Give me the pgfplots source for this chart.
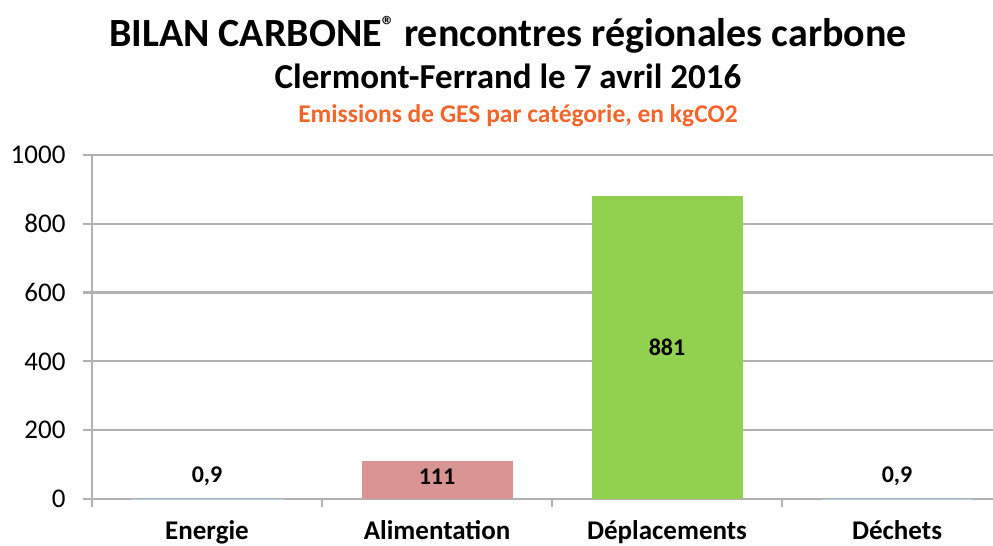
\documentclass[border=0pt]{standalone}
\usepackage{pgfplots}
\pgfplotsset{compat=1.18}
\usepackage{fontspec}
\setmainfont{Carlito}
\definecolor{gridgray}{RGB}{178,178,178}
\definecolor{pinkbar}{RGB}{217,149,148}
\definecolor{greenbar}{RGB}{146,208,80}
\definecolor{bluebar}{RGB}{79,129,189}
\definecolor{orangetitle}{RGB}{242,102,44}
\begin{document}
\begin{tikzpicture}
\path[use as bounding box] (0,0) rectangle (993bp,546bp);
\node[anchor=base,font=\fontsize{40bp}{44bp}\selectfont\bfseries,inner sep=0pt] at (508bp,499bp) {BILAN CARBONE\raisebox{0.3em}{\fontsize{26bp}{28bp}\selectfont ®} rencontres régionales carbone};
\node[anchor=base,font=\fontsize{35bp}{40bp}\selectfont\bfseries,inner sep=0pt] at (508bp,457bp) {Clermont-Ferrand le 7 avril 2016};
\node[anchor=base,font=\fontsize{25.5bp}{30bp}\selectfont\bfseries,text=orangetitle,inner sep=0pt] at (518bp,423bp) {Emissions de GES par catégorie, en kgCO2};
\begin{axis}[
  at={(92bp,47bp)}, anchor=south west,
  scale only axis, width=901bp, height=344bp,
  xmin=-0.5, xmax=3.417, ymin=0, ymax=1000,
  ybar, bar width=151bp,
  axis lines*=left,
  axis line style={gridgray, line width=1.5bp},
  ymajorgrids, grid style={gridgray, line width=2.2bp},
  ytick={0,200,...,1000},
  xtick={0,1,2,3},
  xticklabels={Energie,Alimentation,Déplacements,Déchets},
  minor xtick={-0.5,0.5,1.5,2.5},
  tick align=outside,
  major x tick style={draw=none},
  minor x tick style={gridgray, line width=1.5bp},
  minor tick length=8bp,
  major y tick style={gridgray, line width=2.2bp},
  major tick length=9bp,
  /pgf/number format/assume math mode=true,
  /pgf/number format/1000 sep={},
  yticklabel style={font=\fontsize{27bp}{30bp}\selectfont, xshift=-14bp},
  xticklabel style={font=\fontsize{27bp}{30bp}\selectfont\bfseries, yshift=-9bp},
  clip=false,
]
\addplot[draw=none, fill=bluebar!40, bar shift=0pt] coordinates {(0,0.9)};
\addplot[draw=none, fill=pinkbar, bar shift=0pt] coordinates {(1,111)};
\addplot[draw=none, fill=greenbar, bar shift=0pt] coordinates {(2,881)};
\addplot[draw=none, fill=bluebar!40, bar shift=0pt] coordinates {(3,0.9)};
\node[font=\fontsize{24bp}{26bp}\selectfont\bfseries] at (axis cs:0,66) {0,9};
\node[font=\fontsize{24bp}{26bp}\selectfont\bfseries] at (axis cs:1,66) {111};
\node[font=\fontsize{24bp}{26bp}\selectfont\bfseries] at (axis cs:2,440) {881};
\node[font=\fontsize{24bp}{26bp}\selectfont\bfseries] at (axis cs:3,66) {0,9};
\end{axis}
\end{tikzpicture}
\end{document}
